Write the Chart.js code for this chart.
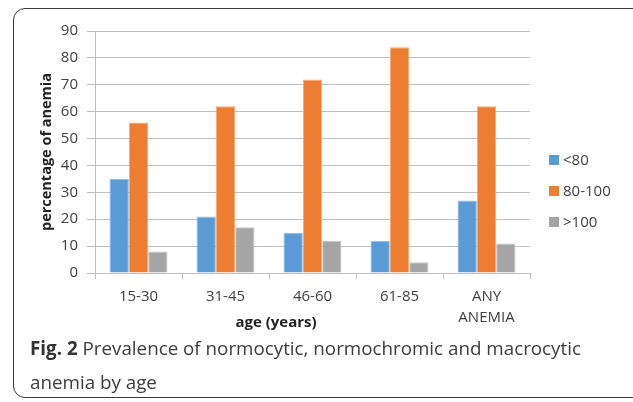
<!DOCTYPE html>
<html>
<head>
<meta charset="utf-8">
<script src="https://cdn.jsdelivr.net/npm/chart.js@4.4.0/dist/chart.umd.min.js"></script>
<style>
  html, body { margin: 0; padding: 0; background: #ffffff; }
  body { width: 633px; height: 402px; position: relative; overflow: hidden; font-family: "Open Sans", sans-serif; }
  #frame { position: absolute; left: 13px; top: 8px; width: 660px; height: 390px; border: 1.5px solid #3a3a3a; border-radius: 12px; box-sizing: border-box; }
  #wrap { position: absolute; left: 0; top: 0; width: 633px; height: 340px; }
  #caption { position: absolute; left: 30px; top: 331px; width: 595px; font-size: 18.8px; line-height: 34px; color: #3c3c3c; }
  #caption b { color: #333; }
</style>
</head>
<body>
<div id="frame"></div>
<div id="wrap"><canvas id="c" width="633" height="340"></canvas></div>
<div id="caption"><b>Fig. 2</b> Prevalence of normocytic, normochromic and macrocytic anemia by age</div>
<script>
const categories = ["15-30", "31-45", "46-60", "61-85", ["ANY", "ANEMIA"]];
const seriesNames = ["<80", "80-100", ">100"];
const under80 = [35, 21, 15, 12, 27];
const from80to100 = [56, 62, 72, 84, 62];
const over100 = [8, 17, 12, 4, 11];
const yTicks = [0, 10, 20, 30, 40, 50, 60, 70, 80, 90];
const xTitle = "age (years)";
const yTitle = "percentage of anemia";

const fills = ["#5B9BD5", "#ED7D31", "#A5A5A5"];
const edges = ["#8FBBE6", "#F5AA78", "#C6C6C6"];
const textColor = "#404040";
const gridColor = "#BFBFBF";

const extrasPlugin = {
  id: "extras",
  afterDraw(chart) {
    const ctx = chart.ctx;
    ctx.save();
    // legend
    ctx.font = "15px 'Open Sans'";
    ctx.textBaseline = "middle";
    ctx.textAlign = "left";
    const ys = [160, 191, 222];
    chart.data.datasets.forEach((ds, i) => {
      ctx.fillStyle = ds.backgroundColor;
      ctx.fillRect(549, ys[i] - 5, 10, 10);
      ctx.fillStyle = textColor;
      ctx.fillText(ds.label, 563, ys[i] + 1);
    });
    // x axis title (offset to the left as in the original)
    ctx.font = "bold 15px 'Open Sans'";
    ctx.fillStyle = "#222";
    ctx.textAlign = "center";
    ctx.fillText(xTitle, 276, 323);
    ctx.restore();
  }
};

new Chart(document.getElementById("c"), {
  type: "bar",
  data: {
    labels: categories,
    datasets: [
      { label: seriesNames[0], data: under80, backgroundColor: fills[0], borderColor: edges[0], borderWidth: 1 },
      { label: seriesNames[1], data: from80to100, backgroundColor: fills[1], borderColor: edges[1], borderWidth: 1 },
      { label: seriesNames[2], data: over100, backgroundColor: fills[2], borderColor: edges[2], borderWidth: 1 }
    ]
  },
  options: {
    responsive: false,
    animation: false,
    devicePixelRatio: 1,
    layout: { padding: { top: 31, right: 103, left: 0, bottom: 0 } },
    datasets: { bar: { categoryPercentage: 0.667, barPercentage: 1.0 } },
    plugins: { legend: { display: false }, tooltip: { enabled: false } },
    scales: {
      x: {
        grid: { drawOnChartArea: false, offset: true, tickLength: 6, color: gridColor, lineWidth: 1 },
        border: { color: gridColor, width: 1 },
        ticks: { color: textColor, font: { family: "Open Sans", size: 15, lineHeight: 1.4 }, padding: 7, maxRotation: 0 },
        title: { display: false },
        afterFit(scale) { scale.height = 67; }
      },
      y: {
        min: 0, max: 90,
        afterBuildTicks(scale) { scale.ticks = yTicks.map(v => ({ value: v })); },
        grid: { color: gridColor, lineWidth: 1, tickLength: 8 },
        border: { color: gridColor, width: 1 },
        ticks: { color: textColor, font: { family: "Open Sans", size: 15 }, padding: 9 },
        title: { display: true, text: yTitle, color: "#222", font: { family: "Open Sans", size: 14.5, weight: "bold", lineHeight: 1.2 }, padding: { top: 38, bottom: 0 } },
        afterFit(scale) { scale.width = 95; }
      }
    }
  },
  plugins: [extrasPlugin]
});
</script>
</body>
</html>
